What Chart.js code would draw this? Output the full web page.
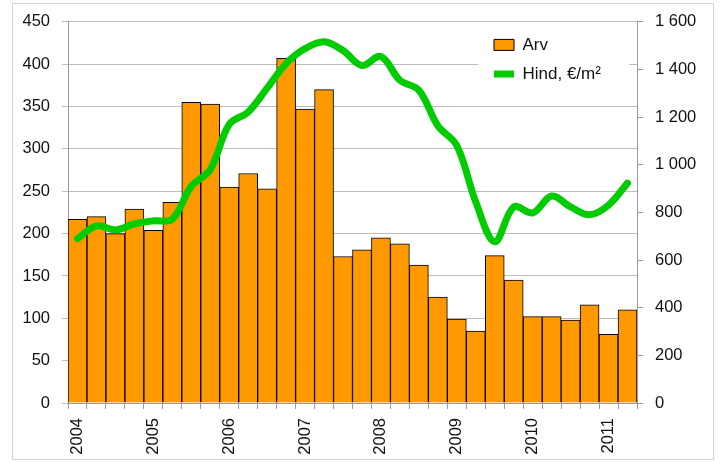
<!DOCTYPE html>
<html>
<head>
<meta charset="utf-8">
<script src="https://cdn.jsdelivr.net/npm/chart.js@4/dist/chart.umd.min.js"></script>
<style>
  html, body { margin: 0; padding: 0; background: #ffffff; }
  #wrap { position: relative; width: 721px; height: 462px; }
</style>
</head>
<body>
<div id="wrap"><canvas id="c" width="721" height="462"></canvas></div>
<script>
// Quarterly categories 2004 Q1 .. 2011 Q2; year label on Q1 only
const categories = [
  '2004','','','',
  '2005','','','',
  '2006','','','',
  '2007','','','',
  '2008','','','',
  '2009','','','',
  '2010','','','',
  '2011',''
];
// Arv (number of transactions), left axis
const arv = [
  217, 220, 200, 229,
  204, 237, 355, 353,
  255, 271, 253, 407,
  347, 370, 173, 181,
  195, 188, 163, 125,
   99,  85, 174, 145,
  102, 102,  98, 116,
   81, 110
];
// Hind, €/m², right axis
const hind = [
  690, 744, 727, 752,
  765, 772, 910, 980,
  1170, 1222, 1322, 1425,
  1488, 1517, 1480, 1417,
  1455, 1355, 1313, 1164,
  1081, 844, 677, 823,
  798, 869, 823, 790,
  831, 923
];
const leftTicks = [0, 50, 100, 150, 200, 250, 300, 350, 400, 450];
const rightTicks = [0, 200, 400, 600, 800, 1000, 1200, 1400, 1600];
const seriesNames = ['Arv', 'Hind, €/m²'];

const FONT = { family: "'Liberation Sans', Arial, sans-serif", size: 16.5 };
const TEXT = '#111111';
const AXIS = '#9a9a9a';
const GRID = '#bdbdbd';

function fmtThousands(v) {
  return String(v).replace(/\B(?=(\d{3})+(?!\d))/g, ' ');
}

const frame = {
  id: 'frame',
  beforeDraw(chart) {
    const ctx = chart.ctx;
    ctx.save();
    ctx.fillStyle = '#ffffff';
    ctx.fillRect(0, 0, chart.width, chart.height);
    ctx.strokeStyle = '#d4d4d4';
    ctx.lineWidth = 1;
    ctx.strokeRect(12.5, 3.5, 701, 456);
    ctx.restore();
    // place legend inside the plot, top right, with white background
    const lg = chart.legend;
    if (lg) {
      const ca = chart.chartArea;
      const L = ca.right - 155, T = ca.top + 2.5, W = 147, H = 76;
      lg.left = L; lg.top = T; lg.right = L + W; lg.bottom = T + H;
      lg.width = W; lg.height = H;
      if (!lg._bgWrapped) {
        const orig = lg.draw;
        lg.draw = function () {
          const c = this.ctx;
          c.save();
          c.fillStyle = '#ffffff';
          c.fillRect(this.left - 4, this.top, this.width + 4, this.height);
          c.restore();
          orig.apply(this, arguments);
        };
        lg._bgWrapped = true;
      }
    }
  }
};

new Chart(document.getElementById('c'), {
  data: {
    labels: categories,
    datasets: [
      {
        type: 'bar',
        label: seriesNames[0],
        data: arv,
        yAxisID: 'y',
        backgroundColor: '#FF9900',
        borderColor: '#000000',
        borderWidth: 1,
        barPercentage: 1.0,
        categoryPercentage: 1.0,
        pointStyle: 'rect',
        order: 1
      },
      {
        type: 'line',
        label: seriesNames[1],
        data: hind,
        yAxisID: 'y1',
        borderColor: '#00CC00',
        backgroundColor: '#00CC00',
        borderWidth: 7,
        borderCapStyle: 'round',
        borderJoinStyle: 'round',
        pointRadius: 0,
        pointHoverRadius: 0,
        pointStyle: 'line',
        tension: 0.35,
        fill: false,
        order: 0
      }
    ]
  },
  options: {
    responsive: false,
    animation: false,
    events: [],
    layout: { padding: { left: 0, right: 0, top: 18, bottom: 0 } },
    plugins: {
      tooltip: { enabled: false },
      title: { display: false },
      legend: {
        display: true,
        position: 'chartArea',
        align: 'start',
        labels: {
          usePointStyle: true,
          pointStyleWidth: 20,
          boxHeight: 11,
          padding: 12,
          color: TEXT,
          font: { family: FONT.family, size: 17 },
          sort: (a, b) => a.datasetIndex - b.datasetIndex
        }
      }
    },
    scales: {
      x: {
        type: 'category',
        offset: true,
        grid: {
          display: true,
          offset: true,
          drawOnChartArea: false,
          drawTicks: true,
          tickLength: 6,
          color: AXIS
        },
        border: { display: true, color: AXIS },
        ticks: {
          autoSkip: false,
          maxRotation: 90,
          minRotation: 90,
          padding: 9,
          color: TEXT,
          font: FONT
        },
        afterFit(scale) { scale.height = 59; }
      },
      y: {
        type: 'linear',
        position: 'left',
        min: leftTicks[0],
        max: leftTicks[leftTicks.length - 1],
        afterBuildTicks(scale) { scale.ticks = leftTicks.map(v => ({ value: v })); },
        grid: { color: GRID, tickLength: 6, drawTicks: true },
        border: { display: true, color: AXIS },
        ticks: { padding: 12, color: TEXT, font: FONT },
        afterFit(scale) { scale.width = 68; }
      },
      y1: {
        type: 'linear',
        position: 'right',
        min: rightTicks[0],
        max: rightTicks[rightTicks.length - 1],
        afterBuildTicks(scale) { scale.ticks = rightTicks.map(v => ({ value: v })); },
        grid: { drawOnChartArea: false, color: AXIS, tickLength: 6, drawTicks: true },
        border: { display: true, color: AXIS },
        ticks: {
          padding: 12,
          color: TEXT,
          font: FONT,
          callback: (v) => fmtThousands(v)
        },
        afterFit(scale) { scale.width = 84; }
      }
    }
  },
  plugins: [frame]
});
</script>
</body>
</html>
